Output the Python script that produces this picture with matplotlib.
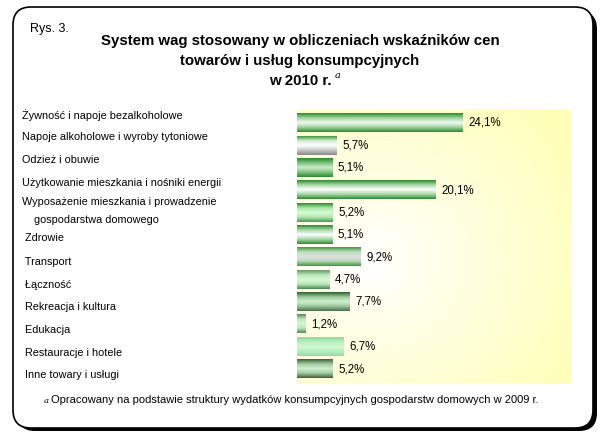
import numpy as np
import matplotlib
matplotlib.use("Agg")
import matplotlib.pyplot as plt
from matplotlib.colors import LinearSegmentedColormap
from matplotlib.patches import FancyBboxPatch

plt.rcParams['font.family'] = ['Liberation Sans', 'DejaVu Sans']

categories = [
    "Żywność i napoje bezalkoholowe",
    "Napoje alkoholowe i wyroby tytoniowe",
    "Odzież i obuwie",
    "Użytkowanie mieszkania i nośniki energii",
    "Wyposażenie mieszkania i prowadzenie\n    gospodarstwa domowego",
    " Zdrowie",
    " Transport",
    " Łączność",
    " Rekreacja i kultura",
    " Edukacja",
    " Restauracje i hotele",
    " Inne towary i usługi",
]
values = [24.1, 5.7, 5.1, 20.1, 5.2, 5.1, 9.2, 4.7, 7.7, 1.2, 6.7, 5.2]
value_labels = ["24,1%", "5,7%", "5,1%", "20,1%", "5,2%", "5,1%",
                "9,2%", "4,7%", "7,7%", "1,2%", "6,7%", "5,2%"]

# label rows are not lined up exactly with the bars (pixel y in the figure)
label_y = [115, 137, 160, 183, 211, 238, 262, 285, 307, 330, 353, 375]

# gradient stops (top -> bottom) for each bar
bar_grads = [
    ["#2f8a2f", "#9fd49f", "#f2faf2", "#9fd49f", "#2f8a2f"],
    ["#3c9a3c", "#d8ecd8", "#ffffff", "#c8c8c8", "#8a8a8a"],
    ["#2f8a2f", "#7fc27f", "#cdebcd", "#7fc27f", "#2f8a2f"],
    ["#2f8a2f", "#a8d8a8", "#ffffff", "#a8d8a8", "#2f8a2f"],
    ["#2f8a2f", "#a8e8a8", "#d8fad8", "#b0e8b0", "#4a9a4a"],
    ["#2f8a2f", "#a8d8a8", "#ffffff", "#a8d8a8", "#2f8a2f"],
    ["#3c9a3c", "#c0dcc0", "#e0e0e0", "#b8d8b8", "#3c9a3c"],
    ["#6a9a6a", "#b8e8b8", "#d8f8d8", "#b8e8b8", "#4a8a4a"],
    ["#2e5e2e", "#9cc89c", "#d0f0d0", "#9cc89c", "#4e6e4e"],
    ["#5a8a5a", "#b8e8b8", "#d8f8d8", "#b8e8b8", "#5a8a5a"],
    ["#90d8a0", "#b8f0c0", "#d0f8d4", "#b8f0c0", "#98d8a8"],
    ["#3e5e3e", "#a0c8a0", "#d0f0d0", "#a0c8a0", "#3e5e3e"],
]

fig = plt.figure(figsize=(6, 4.47), dpi=100)
H = 447

# frame with rounded corners and shadow
bg = fig.add_axes([0, 0, 1, 1], zorder=0)
bg.set_xlim(0, 600)
bg.set_ylim(447, 0)
bg.axis("off")
shadow = FancyBboxPatch((17, 11), 580, 420, boxstyle="round,pad=0,rounding_size=18",
                        fc="black", ec="black", lw=0)
box = FancyBboxPatch((13, 7), 580, 421, boxstyle="round,pad=0,rounding_size=18",
                     fc="white", ec="black", lw=1.2)
bg.add_patch(shadow)
bg.add_patch(box)

ax = fig.add_axes([297 / 600, 1 - 383 / H, 275 / 600, 274 / H], zorder=1)
n = len(values)

# yellow background gradient
gx, gy = np.meshgrid(np.linspace(0, 1, 200), np.linspace(0, 1, 200))
d = np.sqrt(((gx - 0.25) / 1.0) ** 2 + ((gy - 0.55) / 0.9) ** 2)
t = np.clip(d / 0.9, 0, 1)
c0 = np.array([1.0, 1.0, 1.0])
c1 = np.array([1.0, 1.0, 0.72])
img = c0[None, None, :] * (1 - t[..., None]) + c1[None, None, :] * t[..., None]
ax.imshow(img, extent=[0, 40, n - 0.375, -0.625], aspect="auto", zorder=0)

h = 0.82
for i, v in enumerate(values):
    cmap = LinearSegmentedColormap.from_list("g%d" % i, bar_grads[i])
    grad = np.linspace(0, 1, 64).reshape(-1, 1)
    ax.imshow(grad, cmap=cmap, extent=[0, v, i + h / 2, i - h / 2],
              aspect="auto", zorder=2, interpolation="bilinear")
    ax.text(v + 0.85, i, value_labels[i], va="center", ha="left", fontsize=8.3, zorder=3)

ax.set_xlim(0, 40)
ax.set_ylim(n - 0.375, -0.625)
for s in ax.spines.values():
    s.set_visible(False)
ax.set_xticks([])
ax.set_yticks([])

# category labels, left aligned
for c, yp in zip(categories, label_y):
    fig.text(22 / 600, 1 - yp / H, c, ha="left", va="center", fontsize=7.8,
             linespacing=1.9)

fig.text(30 / 600, 1 - 29 / H, "Rys. 3.", fontsize=9, va="center", ha="left")
fig.text(0.5, 1 - 41 / H, "System wag stosowany w obliczeniach wskaźników cen",
         fontsize=10.8, fontweight="bold", ha="center", va="center")
fig.text(0.5, 1 - 61 / H, "towarów i usług konsumpcyjnych",
         fontsize=10.8, fontweight="bold", ha="center", va="center")
fig.text(0.5, 1 - 81 / H, "w 2010 r.", fontsize=10.8, fontweight="bold",
         ha="center", va="center")
fig.text(335 / 600, 1 - 76 / H, "a", fontsize=7, style="italic", ha="left",
         va="center", family="DejaVu Serif")

fig.text(44 / 600, 1 - 401 / H, "a", fontsize=6, style="italic", ha="left",
         va="center", family="DejaVu Serif")
fig.text(51 / 600, 1 - 400 / H,
         "Opracowany na podstawie struktury wydatków konsumpcyjnych gospodarstw domowych w 2009 r.",
         fontsize=8, ha="left", va="center")

fig.savefig("out.png", dpi=100)
